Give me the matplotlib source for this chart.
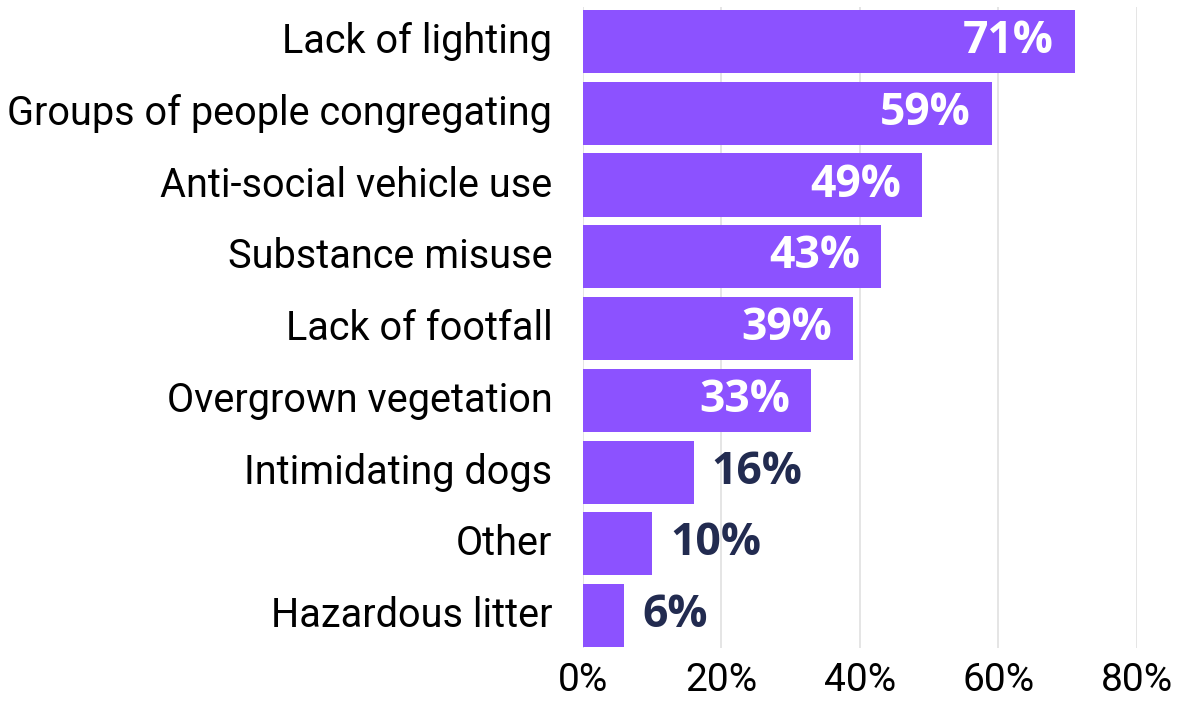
import matplotlib
matplotlib.use('Agg')
import matplotlib.pyplot as plt
import matplotlib.transforms as mtrans

categories = ['Lack of lighting', 'Groups of people congregating', 'Anti-social vehicle use',
              'Substance misuse', 'Lack of footfall', 'Overgrown vegetation',
              'Intimidating dogs', 'Other', 'Hazardous litter']
values = [71, 59, 49, 43, 39, 33, 16, 10, 6]
xticks = [0, 20, 40, 60, 80]

bar_col = '#8c52ff'
dark = '#222b50'

fig = plt.figure(figsize=(11.8, 7.02), dpi=100)
ax = fig.add_axes([0.494, 0.077, 0.4695, 0.913])

ypos = list(range(len(categories)))[::-1]
ax.barh(ypos, values, height=0.88, color=bar_col, zorder=2)

for y, v in zip(ypos, values):
    if v >= 30:
        ax.text(v - 3.0, y, f'{v}%', ha='right', va='center', color='white',
                fontsize=32, fontweight='bold', family='Open Sans', zorder=3)
    else:
        ax.text(v + 2.6, y, f'{v}%', ha='left', va='center', color=dark,
                fontsize=32, fontweight='bold', family='Open Sans', zorder=3)

ax.set_xlim(0, 80)
ax.set_ylim(-0.45, 8.48)
ax.set_xticks(xticks)
ax.set_xticklabels([f'{t}%' for t in xticks], family='Roboto', fontsize=28)
ax.set_yticks(ypos)
ax.set_yticklabels(categories, family='Roboto', fontsize=28.5)
ax.tick_params(axis='both', length=0)
ax.tick_params(axis='y', pad=22)
ax.tick_params(axis='x', pad=10)
# nudge the category labels up a little
shift = mtrans.ScaledTranslation(0, 4 / 100, fig.dpi_scale_trans)
for lab in ax.get_yticklabels():
    lab.set_transform(lab.get_transform() + shift)
ax.grid(axis='x', color='#e0e0e0', linewidth=1.2, zorder=0)
for s in ax.spines.values():
    s.set_visible(False)

fig.savefig('out.png', dpi=100)
